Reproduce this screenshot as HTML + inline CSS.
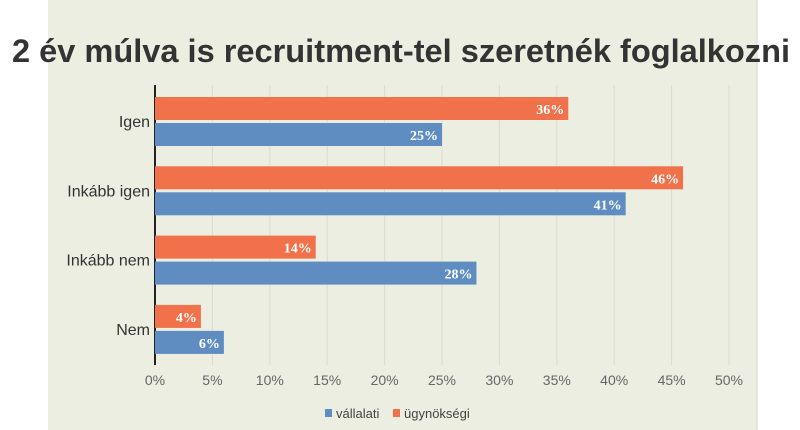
<!DOCTYPE html>
<html><head><meta charset="utf-8"><style>
html,body{margin:0;padding:0;background:#fff;width:800px;height:430px;overflow:hidden}
</style></head><body>
<svg id="chart" width="800" height="430" xmlns="http://www.w3.org/2000/svg" font-family="Liberation Sans, sans-serif">
<rect x="48" y="0" width="709" height="430" fill="#ebeee1"/>
<line x1="757" x2="757" y1="0" y2="430" stroke="#d6d8d0" stroke-width="1"/>
<text x="401" y="62" text-anchor="middle" font-size="32" font-weight="bold" fill="#333" textLength="778" lengthAdjust="spacingAndGlyphs">2 év múlva is recruitment-tel szeretnék foglalkozni</text>
<g id="grid"></g><g id="bars"></g><g id="labels"></g>
<g>
<rect x="325" y="409" width="7" height="8" fill="#5f8dc2"/>
<text x="336" y="418" font-size="13" fill="#444">vállalati</text>
<rect x="393" y="409" width="7" height="8" fill="#f0714a"/>
<text x="404" y="418" font-size="13" fill="#444">ügynökségi</text>
</g>
</svg>
<script>
const categories=["Igen","Inkább igen","Inkább nem","Nem"];
const vallalati=[25,41,28,6];
const ugynoksegi=[36,46,14,4];
const ticks=[0,5,10,15,20,25,30,35,40,45,50];
const NS="http://www.w3.org/2000/svg";
const x0=155,x1=729,maxV=50;
const xs=v=>x0+(x1-x0)*v/maxV;
const catY=i=>121+i*69.3;
function mk(tag,attrs,parent,txt){const e=document.createElementNS(NS,tag);for(const k in attrs)e.setAttribute(k,attrs[k]);if(txt!==undefined)e.textContent=txt;parent.appendChild(e);return e;}
const grid=document.getElementById('grid'),bars=document.getElementById('bars'),labels=document.getElementById('labels');
ticks.forEach(t=>{
 if(t>0){const l=mk('line',{x1:xs(t),x2:xs(t),y1:85,y2:365,stroke:'#d9dccf','stroke-width':1},grid);
 
 }
 const tx=mk('text',{x:xs(t),y:385,'text-anchor':'middle','font-size':14,fill:'#666'},grid,t+'%');
 
 
});
const ax=mk('line',{x1:x0,x2:x0,y1:85,y2:365,stroke:'#222','stroke-width':2},grid);


categories.forEach((c,i)=>{
 const cy=catY(i);
 const cl=mk('text',{x:150,y:cy+6,'text-anchor':'end','font-size':16,fill:'#333'},labels,c);
 
 
 [[ugynoksegi[i],'#f0714a',cy-24,'bar-ugynoksegi'],[vallalati[i],'#5f8dc2',cy+2,'bar-vallalati']].forEach(([v,col,y,n])=>{
  const r=mk('rect',{x:x0,y:y,width:xs(v)-x0,height:23,fill:col},bars);
  
  
  const t=mk('text',{x:xs(v)-4,y:y+17,'text-anchor':'end','font-size':14,'font-weight':'bold','font-family':'Liberation Serif, serif',fill:'#fff'},labels,v+'%');
  
  
 });
});
</script>
</body></html>
